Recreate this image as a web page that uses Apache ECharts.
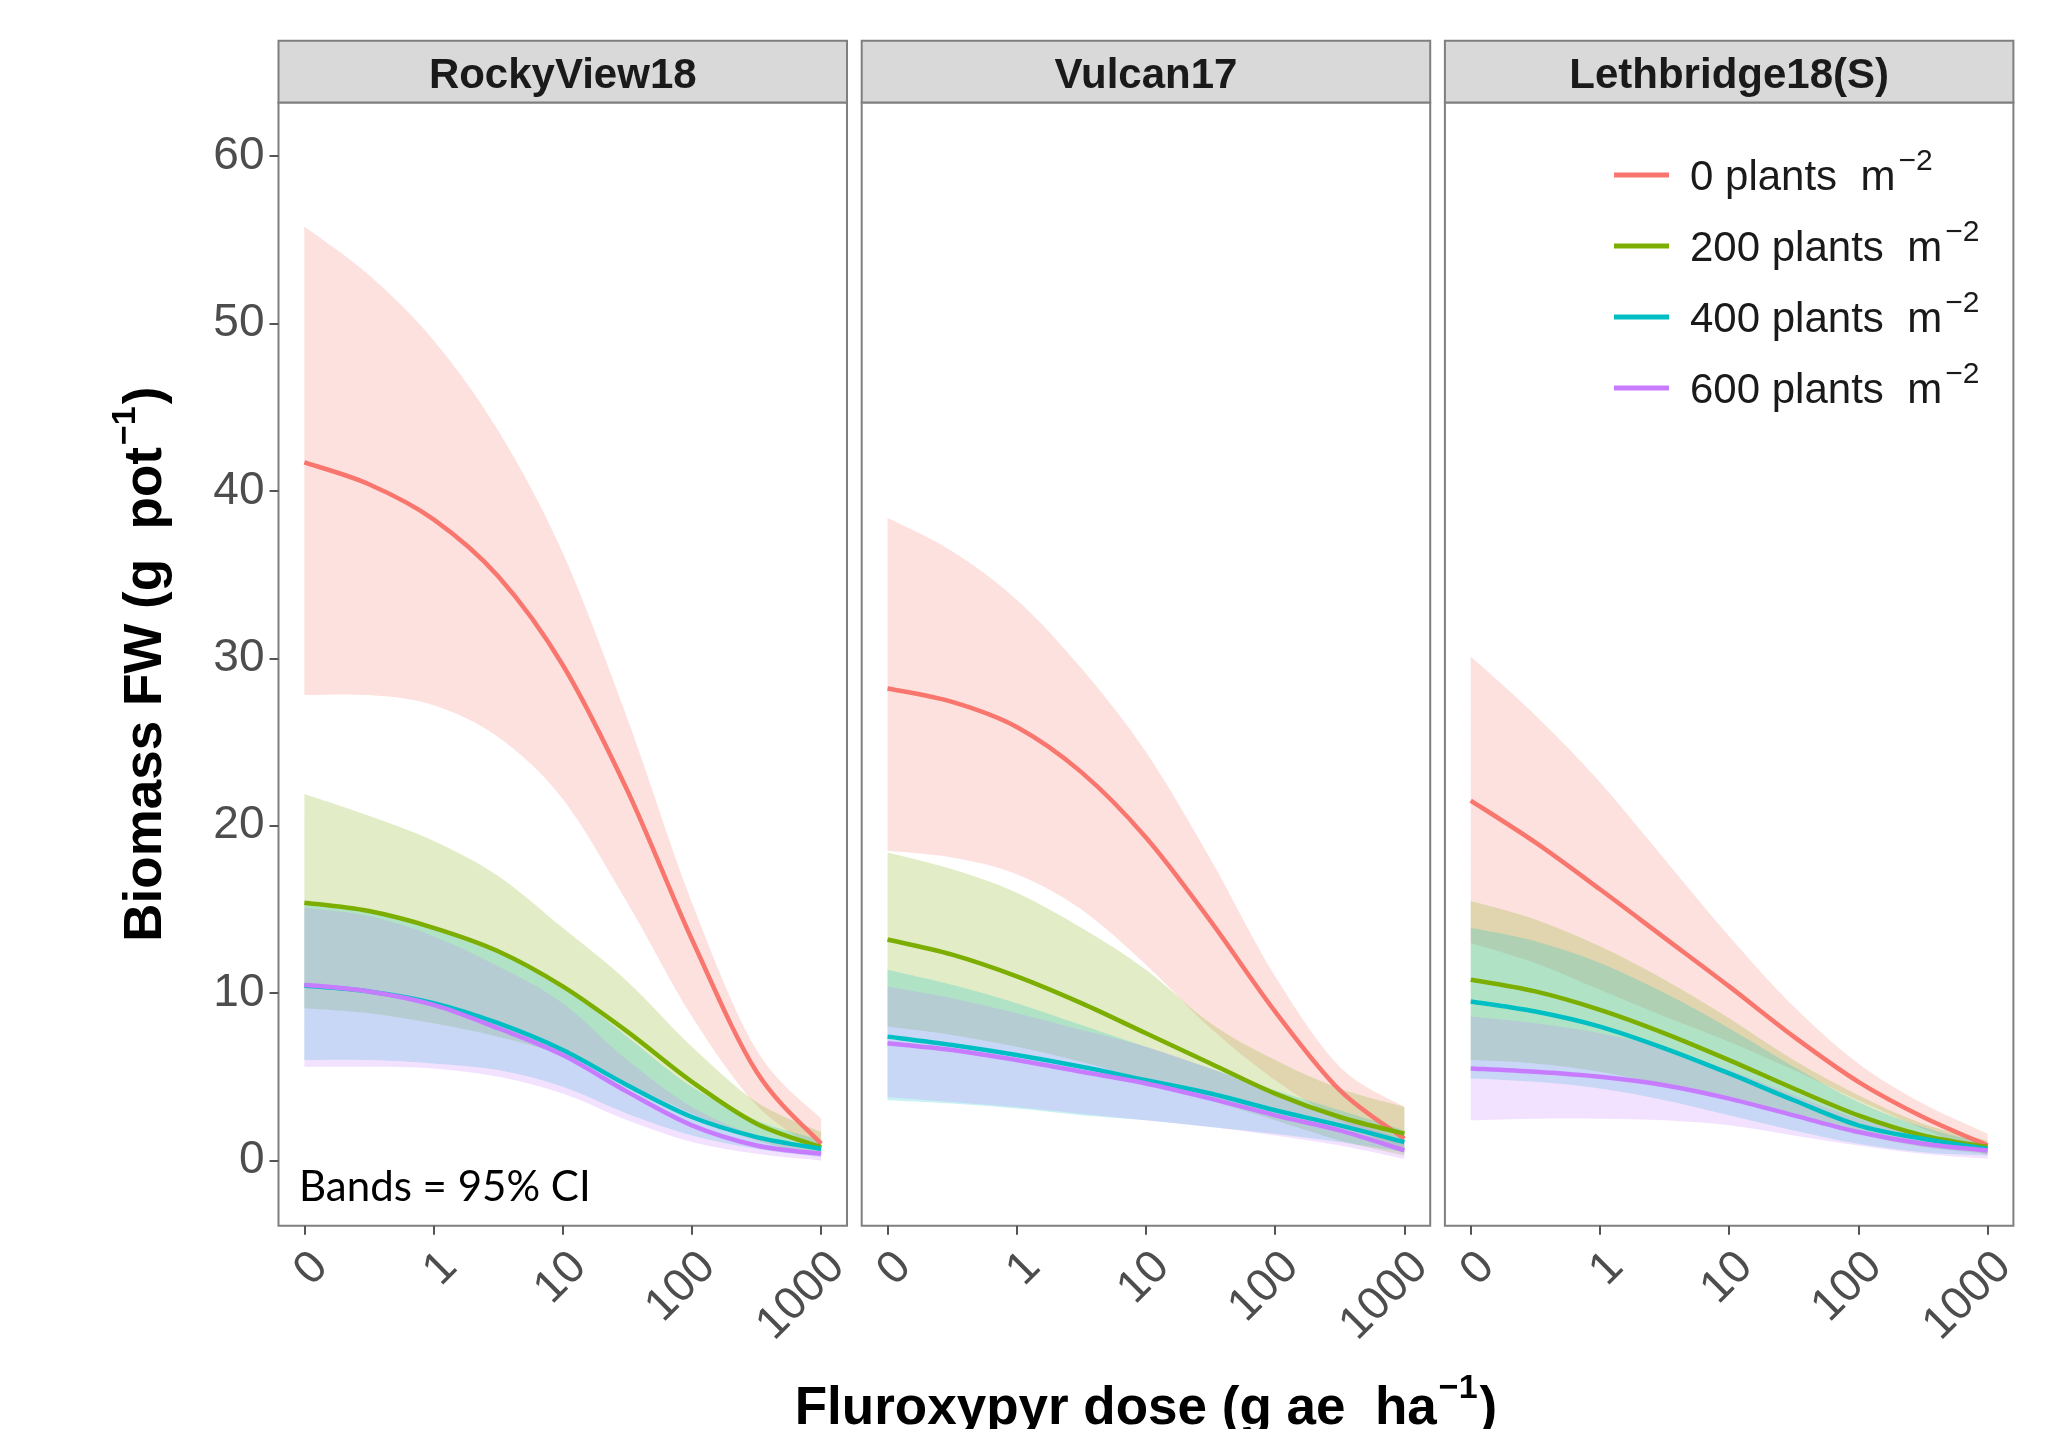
<!DOCTYPE html>
<html>
<head>
<meta charset="utf-8">
<script src="https://cdn.jsdelivr.net/npm/echarts@6/dist/echarts.min.js"></script>
<style>
html, body { margin: 0; padding: 0; background: #fff; }
#chart1 { width: 2060px; height: 1429px; }
</style>
</head>
<body>
<div id="chart1"></div>
<script>
// dose axis: evenly spaced positions 0..4 labelled 0, 1, 10, 100, 1000
var doseTicks = ['0', '1', '10', '100', '1000'];
var doseX = [0, 0.5, 1, 1.5, 2, 2.5, 3, 3.5, 4];
var biomassTicks = [0, 10, 20, 30, 40, 50, 60];
var sites = ['RockyView18', 'Vulcan17', 'Lethbridge18(S)'];
var densities = ['0 plants  m', '200 plants  m', '400 plants  m', '600 plants  m'];
var colors = ['#F8766D', '#7CAE00', '#00BFC4', '#C77CFF'];

// RockyView18
var rv0Fit = [41.7, 40.4, 38.3, 34.9, 29.6, 22.1, 13.2, 5.3, 1.0];
var rv0Lo = [27.8, 27.8, 27.2, 25.3, 21.6, 15.4, 8.6, 3.3, 0.5];
var rv0Hi = [55.8, 52.9, 49.0, 43.6, 36.3, 26.4, 15.4, 6.6, 2.5];
var rv200Fit = [15.4, 14.9, 13.9, 12.5, 10.4, 7.7, 4.7, 2.2, 0.8];
var rv200Lo = [9.1, 8.8, 8.2, 7.4, 6.3, 4.6, 2.8, 1.2, 0.3];
var rv200Hi = [21.9, 20.6, 19.1, 17.0, 13.9, 10.7, 6.8, 3.5, 1.7];
var rv400Fit = [10.45, 10.1, 9.4, 8.2, 6.6, 4.5, 2.6, 1.4, 0.7];
var rv400Lo = [6.0, 6.0, 5.8, 5.4, 4.4, 2.8, 1.5, 0.7, 0.2];
var rv400Hi = [15.3, 14.9, 14.0, 12.5, 10.4, 7.4, 4.4, 2.4, 1.2];
var rv600Fit = [10.5, 10.1, 9.3, 7.9, 6.3, 4.1, 2.1, 0.9, 0.4];
var rv600Lo = [5.6, 5.6, 5.5, 5.0, 4.0, 2.4, 1.1, 0.4, 0.0];
var rv600Hi = [15.1, 14.6, 13.4, 11.6, 9.4, 6.0, 3.2, 1.5, 0.7];

// Vulcan17
var vu0Fit = [28.2, 27.4, 25.9, 23.2, 19.3, 14.3, 8.9, 4.2, 1.3];
var vu0Lo = [18.5, 18.1, 17.1, 15.0, 11.7, 7.9, 4.8, 2.4, 0.5];
var vu0Hi = [38.4, 36.4, 33.5, 29.4, 24.4, 18.0, 11.0, 5.6, 3.2];
var vu200Fit = [13.2, 12.3, 11.0, 9.4, 7.6, 5.8, 4.0, 2.6, 1.6];
var vu200Lo = [8.0, 7.5, 6.8, 5.9, 4.8, 3.6, 2.4, 1.2, 0.3];
var vu200Hi = [18.4, 17.4, 16.0, 13.9, 11.4, 8.2, 6.0, 4.3, 3.2];
var vu400Fit = [7.4, 6.9, 6.3, 5.6, 4.8, 4.0, 3.0, 2.1, 1.1];
var vu400Lo = [3.6, 3.4, 3.1, 2.7, 2.4, 2.0, 1.6, 1.1, 0.5];
var vu400Hi = [11.4, 10.5, 9.4, 8.1, 6.8, 5.5, 4.2, 3.0, 1.8];
var vu600Fit = [7.0, 6.6, 6.0, 5.3, 4.6, 3.7, 2.7, 1.8, 0.6];
var vu600Lo = [3.8, 3.5, 3.2, 2.8, 2.4, 2.0, 1.5, 0.9, 0.1];
var vu600Hi = [10.4, 9.7, 8.8, 7.8, 6.8, 5.5, 4.0, 2.6, 1.2];

// Lethbridge18(S)
var le0Fit = [21.5, 19.0, 16.2, 13.3, 10.4, 7.4, 4.7, 2.6, 0.9];
var le0Lo = [13.0, 11.8, 10.2, 8.6, 7.1, 5.4, 3.6, 1.9, 0.3];
var le0Hi = [30.1, 26.6, 22.6, 18.0, 13.4, 9.2, 5.8, 3.4, 1.6];
var le200Fit = [10.8, 10.1, 9.0, 7.6, 6.0, 4.3, 2.7, 1.5, 0.8];
var le200Lo = [6.0, 5.8, 5.3, 4.5, 3.6, 2.6, 1.6, 0.8, 0.4];
var le200Hi = [15.5, 14.4, 12.8, 10.8, 8.5, 6.0, 3.9, 2.2, 1.2];
var le400Fit = [9.5, 8.9, 8.0, 6.7, 5.2, 3.6, 2.1, 1.3, 0.7];
var le400Lo = [4.9, 4.7, 4.3, 3.6, 2.7, 1.8, 1.0, 0.5, 0.3];
var le400Hi = [13.9, 13.1, 11.8, 10.0, 7.9, 5.6, 3.5, 2.0, 1.0];
var le600Fit = [5.5, 5.3, 5.0, 4.5, 3.7, 2.7, 1.7, 1.0, 0.6];
var le600Lo = [2.4, 2.5, 2.5, 2.4, 2.1, 1.5, 0.9, 0.4, 0.1];
var le600Hi = [8.6, 8.2, 7.6, 6.7, 5.4, 3.9, 2.5, 1.5, 1.0];

var panels = [
  [[rv0Fit, rv0Lo, rv0Hi], [rv200Fit, rv200Lo, rv200Hi], [rv400Fit, rv400Lo, rv400Hi], [rv600Fit, rv600Lo, rv600Hi]],
  [[vu0Fit, vu0Lo, vu0Hi], [vu200Fit, vu200Lo, vu200Hi], [vu400Fit, vu400Lo, vu400Hi], [vu600Fit, vu600Lo, vu600Hi]],
  [[le0Fit, le0Lo, le0Hi], [le200Fit, le200Lo, le200Hi], [le400Fit, le400Lo, le400Hi], [le600Fit, le600Lo, le600Hi]]
];

var font = "'Liberation Sans', Arial, sans-serif";
var gridLeft = [278.5, 861.7, 1444.9];
var gridTop = 102.5, gridW = 568.5, gridH = 1123.3;

var dom = document.getElementById('chart1');
var myChart = echarts.init(dom);

// smooth curve through pixel points (catmull-rom as bezier)
function curvePath(p) {
  var s = '';
  for (var j = 0; j < p.length - 1; j++) {
    var p0 = p[j - 1] || p[j], p1 = p[j], p2 = p[j + 1], p3 = p[j + 2] || p[j + 1];
    s += 'C' + (p1[0] + (p2[0] - p0[0]) / 6) + ' ' + (p1[1] + (p2[1] - p0[1]) / 6) + ' ' +
      (p2[0] - (p3[0] - p1[0]) / 6) + ' ' + (p2[1] - (p3[1] - p1[1]) / 6) + ' ' +
      p2[0] + ' ' + p2[1];
  }
  return s;
}

function band(k, lo, hi, color) {
  return {
    type: 'custom',
    xAxisIndex: k,
    yAxisIndex: k,
    z: 1,
    silent: true,
    data: [0],
    renderItem: function (params, api) {
      var up = doseX.map(function (x, j) { return api.coord([x, hi[j]]); });
      var dn = doseX.map(function (x, j) { return api.coord([x, lo[j]]); }).reverse();
      var d = 'M' + up[0][0] + ' ' + up[0][1] + curvePath(up) +
        'L' + dn[0][0] + ' ' + dn[0][1] + curvePath(dn) + 'Z';
      return {
        type: 'path',
        shape: { pathData: d },
        style: { fill: color, opacity: 0.22 }
      };
    }
  };
}

function fitLine(k, name, fit, color) {
  return {
    type: 'custom',
    name: name,
    xAxisIndex: k,
    yAxisIndex: k,
    z: 3,
    silent: true,
    itemStyle: { color: color },
    data: [0],
    renderItem: function (params, api) {
      var pts = doseX.map(function (x, j) { return api.coord([x, fit[j]]); });
      return {
        type: 'path',
        shape: { pathData: 'M' + pts[0][0] + ' ' + pts[0][1] + curvePath(pts) },
        style: { fill: 'none', stroke: color, lineWidth: 4.5, lineCap: 'butt', lineJoin: 'round' }
      };
    }
  };
}

var grids = [], xAxes = [], yAxes = [], series = [], graphics = [];

for (var k = 0; k < 3; k++) {
  grids.push({
    left: gridLeft[k], top: gridTop, width: gridW, height: gridH,
    show: true, borderColor: '#7f7f7f', borderWidth: 2, backgroundColor: '#fff',
    outerBoundsMode: 'none'
  });
  xAxes.push({
    type: 'value', gridIndex: k, min: -0.2, max: 4.2,
    axisLine: { show: false, onZero: false },
    splitLine: { show: false },
    axisTick: { show: true, customValues: [0, 1, 2, 3, 4], length: 9, lineStyle: { color: '#555', width: 2 } },
    axisLabel: {
      customValues: [0, 1, 2, 3, 4],
      formatter: function (v) { return doseTicks[Math.round(v)]; },
      rotate: 45, align: 'right', verticalAlign: 'top', margin: 18,
      fontSize: 46, fontFamily: font, color: '#4d4d4d'
    }
  });
  yAxes.push({
    type: 'value', gridIndex: k, min: -3.9, max: 63.2,
    axisLine: { show: false, onZero: false },
    splitLine: { show: false },
    axisTick: { show: k === 0, customValues: biomassTicks, length: 9, lineStyle: { color: '#555', width: 2 } },
    axisLabel: { show: k === 0, customValues: biomassTicks, margin: 14, fontSize: 46, fontFamily: font, color: '#4d4d4d' }
  });
  for (var g = 0; g < 4; g++) {
    series.push(band(k, panels[k][g][1], panels[k][g][2], colors[g]));
  }
  for (var g2 = 0; g2 < 4; g2++) {
    series.push(fitLine(k, densities[g2], panels[k][g2][0], colors[g2]));
  }
  graphics.push({
    type: 'rect',
    shape: { x: gridLeft[k], y: 40.7, width: gridW, height: gridTop - 40.7 },
    style: { fill: '#d9d9d9', stroke: '#7f7f7f', lineWidth: 2 }
  });
  graphics.push({
    type: 'text',
    style: {
      text: sites[k], x: gridLeft[k] + gridW / 2, y: 76,
      align: 'center', verticalAlign: 'middle',
      fontSize: 42, fontWeight: 'bold', fontFamily: font, fill: '#1a1a1a'
    }
  });
}

graphics.push({
  type: 'text',
  style: {
    text: 'Bands = 95% CI', x: 299, y: 1208,
    align: 'left', verticalAlign: 'bottom',
    fontSize: 42, fontFamily: 'Lato, sans-serif', fill: '#000'
  }
});

var titleRich = {
  b: { fontSize: 53, fontWeight: 'bold', fontFamily: font, color: '#000', verticalAlign: 'bottom', lineHeight: 60 },
  s: { fontSize: 34, fontWeight: 'bold', fontFamily: font, color: '#000', verticalAlign: 'bottom', lineHeight: 36, padding: [0, 2, 30, 2] }
};

yAxes[0].name = '{b|Biomass FW (g  pot}{s|\u22121}{b|)}';
yAxes[0].nameLocation = 'middle';
yAxes[0].nameRotate = 90;
yAxes[0].nameGap = 106;
yAxes[0].nameTextStyle = { rich: titleRich };

xAxes[1].name = '{b|Fluroxypyr dose (g ae  ha}{s|\u22121}{b|)}';
xAxes[1].nameLocation = 'middle';
xAxes[1].nameGap = 150;
xAxes[1].nameTextStyle = { rich: titleRich };

option = {
  animation: false,
  backgroundColor: '#fff',
  grid: grids,
  xAxis: xAxes,
  yAxis: yAxes,
  legend: {
    data: densities,
    orient: 'vertical',
    left: 1609,
    top: 142,
    icon: 'rect',
    itemWidth: 55,
    itemHeight: 5,
    itemGap: 19,
    formatter: function (name) { return '{a|' + name + '}{s|\u22122}'; },
    textStyle: {
      rich: {
        a: { fontSize: 42, fontFamily: font, color: '#1a1a1a', verticalAlign: 'bottom', lineHeight: 48, padding: [0, 0, 0, 16] },
        s: { fontSize: 30, fontFamily: font, color: '#1a1a1a', verticalAlign: 'bottom', lineHeight: 30, padding: [0, 0, 22, 3] }
      }
    }
  },
  graphic: graphics,
  series: series
};

if (option && typeof option === 'object') {
  myChart.setOption(option, true);
}
</script>
</body>
</html>
